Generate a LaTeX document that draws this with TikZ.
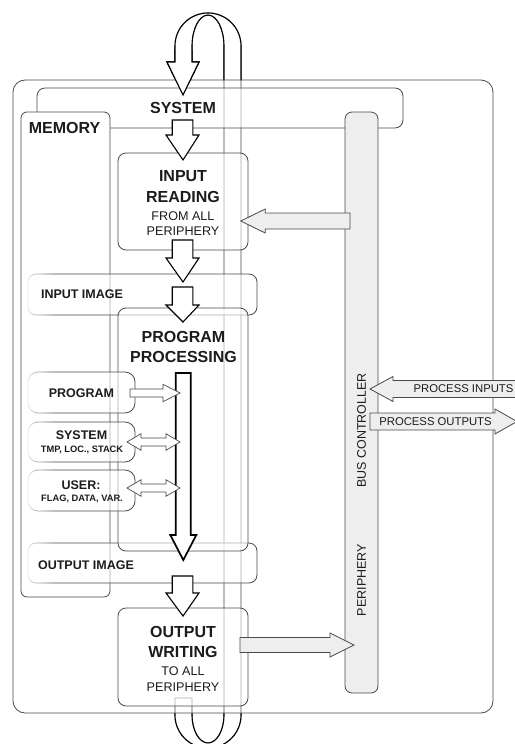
\documentclass[tikz,border=0pt]{standalone}
\usepackage{fontspec}
\setmainfont{Liberation Sans}
\usetikzlibrary{positioning,calc,fadings}
\definecolor{edgegray}{HTML}{4A4A4A}
\definecolor{inkgray}{HTML}{1C1C1C}
\definecolor{busgray}{HTML}{EEEEEE}
\tikzset{
  % kaesten
  outerbox/.style={draw=edgegray,line width=0.8pt,fill=white,fill opacity=0.45,
                   rounded corners=12pt,inner sep=0pt},
  blk/.style={draw=edgegray,line width=0.8pt,fill=white,fill opacity=0.55,
              rounded corners=8pt,inner sep=0pt},
  memblk/.style={blk,rounded corners=10pt},
  busbar/.style={draw=edgegray,line width=0.8pt,fill=busgray,rounded corners=7pt,
                 inner sep=0pt},
  % texte
  ttl/.style={font=\fontsize{16}{20.5}\selectfont\bfseries,text=inkgray,
              align=center,inner sep=0pt},
  subttl/.style={font=\fontsize{12.6}{15.5}\selectfont,text=inkgray,
                 align=center,inner sep=0pt},
  lbl/.style={font=\fontsize{12.5}{14}\selectfont\bfseries,text=inkgray,
              inner sep=0pt,text depth=0pt},
  memsub/.style={font=\fontsize{9.3}{11}\selectfont\bfseries,text=inkgray,
                 inner sep=0pt,text depth=0pt},
  iolbl/.style={font=\fontsize{11.3}{13}\selectfont,text=inkgray,
                inner sep=0pt,text depth=0pt},
  buslbl/.style={font=\fontsize{12.5}{14}\selectfont,text=inkgray,
                 inner sep=0pt,text depth=0pt,rotate=90},
  % pfeile
  bigarr/.style={draw=black,line width=1.1pt,fill=white},
  longarr/.style={draw=black,line width=1.7pt,fill=white},
  flowarr/.style={draw=edgegray,line width=0.8pt,fill=busgray},
  memarr/.style={draw=edgegray,line width=0.7pt,fill=white},
  loopline/.style={draw=black,line width=1.1pt,fill=white},
  loopback/.style={loopline,draw=black!70},
}
% block arrow down: style, tail, tip, half shaft, half head, head length
\newcommand{\blkdown}[6]{%
  \draw[#1] let \p1=(#2), \p2=(#3), \p3=($(#3)!#6pt!(#2)$) in
    ({\x1-#4pt},\y1) -- ({\x1-#4pt},\y3) -- ({\x1-#5pt},\y3) -- (\x2,\y2)
    -- ({\x1+#5pt},\y3) -- ({\x1+#4pt},\y3) -- ({\x1+#4pt},\y1) -- cycle;}
% block arrow sideways: style, tail, tip, half shaft, half head, head length
\newcommand{\blkside}[6]{%
  \draw[#1] let \p1=(#2), \p2=(#3), \p3=($(#3)!#6pt!(#2)$) in
    (\x1,{\y1+#4pt}) -- (\x3,{\y1+#4pt}) -- (\x3,{\y1+#5pt}) -- (\x2,\y2)
    -- (\x3,{\y1-#5pt}) -- (\x3,{\y1-#4pt}) -- (\x1,{\y1-#4pt}) -- cycle;}
% block arrow both ways: style, left tip, right tip, half shaft, half head, head length
\newcommand{\blkboth}[6]{%
  \draw[#1] let \p1=(#2), \p2=(#3), \p3=($(#2)!#6pt!(#3)$), \p4=($(#3)!#6pt!(#2)$) in
    (\x1,\y1) -- (\x3,{\y1+#5pt}) -- (\x3,{\y1+#4pt}) -- (\x4,{\y1+#4pt})
    -- (\x4,{\y1+#5pt}) -- (\x2,\y2) -- (\x4,{\y1-#5pt}) -- (\x4,{\y1-#4pt})
    -- (\x3,{\y1-#4pt}) -- (\x3,{\y1-#5pt}) -- cycle;}
% zyklus-schleife
\newcommand{\drawloop}[1]{%
  \draw[#1] (175,698) -- (175,715)
    arc[start angle=180,end angle=0,x radius=33,y radius=33] -- (241,46)
    arc[start angle=0,end angle=-180,x radius=33,y radius=33] -- (175,62)
    -- (167,62) -- (183,95) -- (199,62) -- (192,62) -- (192,46)
    arc[start angle=180,end angle=360,x radius=16,y radius=31] -- (224,715)
    arc[start angle=0,end angle=180,x radius=16,y radius=28] -- (192,698) -- cycle;}

\begin{document}
\begin{tikzpicture}[x=1pt,y=-1pt]
  \useasboundingbox (0,0) rectangle (514,744);
  \drawloop{loopback}
  \begin{scope}
    \clip (0,0) rectangle (514,80);
    \drawloop{loopline}
  \end{scope}
  \begin{scope}
    \clip (0,713) rectangle (514,744);
    \drawloop{loopline}
  \end{scope}
  % kaesten
  \node[outerbox,minimum width=480pt,minimum height=633pt] (plc) at (253,396.5) {};
  \node[blk,minimum width=366pt,minimum height=40pt] (sysband) at (220,108) {};
  \node[busbar,minimum width=33pt,minimum height=581pt] (bus) at (361.5,402.5) {};
  \node[blk,rounded corners=6pt,fill opacity=1,minimum width=89pt,
        minimum height=485pt] (mem) at (65.5,354.5) {};
  \node[blk,minimum width=229pt,minimum height=41pt] (inimg) at (142.5,294.5) {};
  \node[blk,minimum width=229pt,minimum height=40pt] (outimg) at (142.5,563) {};
  \node[blk,minimum width=130pt,minimum height=97pt] (inread) at (183,201.5) {};
  \node[blk,minimum width=130pt,minimum height=243pt] (proc) at (183,429.5) {};
  \node[blk,minimum width=130pt,minimum height=98pt] (outwrite) at (183,657) {};
  \node[memblk,minimum width=107pt,minimum height=41pt] (mprog) at (81.5,392.5) {};
  \node[memblk,minimum width=107pt,minimum height=40pt] (msys) at (81.5,442) {};
  \node[memblk,minimum width=107pt,minimum height=41pt] (muser) at (81.5,490.5) {};
  \foreach \ya/\yb in {272/316,541/585,370/415,420/464,468/513}
    \fill[white,path fading=east] (24,\ya) rectangle (54,\yb);
  % pfeile
  \coordinate (a1s) at (182.5,120);   \coordinate (a1t) at (183,160);
  \coordinate (a2s) at (182.5,240);   \coordinate (a2t) at (183,282);
  \coordinate (a3s) at (182.5,287);   \coordinate (a3t) at (183,322);
  \coordinate (a4s) at (183.3,373);   \coordinate (a4t) at (183.3,560);
  \coordinate (a5s) at (182.5,576);   \coordinate (a5t) at (183,616);
  \blkdown{bigarr}{a1s}{a1t}{10.3}{16.5}{25}
  \blkdown{bigarr}{a2s}{a2t}{10.3}{16.5}{24}
  \blkdown{bigarr}{a3s}{a3t}{10.3}{16.5}{17}
  \blkdown{longarr}{a4s}{a4t}{7.5}{13}{25}
  \blkdown{bigarr}{a5s}{a5t}{10.3}{16.5}{23}
  \coordinate (ps) at (130,393);      \coordinate (pt) at (180,393);
  \coordinate (ss) at (127,442);      \coordinate (st) at (180,442);
  \coordinate (us) at (127,488);      \coordinate (ut) at (180,488);
  \blkside{memarr}{ps}{pt}{4}{8.7}{17}
  \blkboth{memarr}{ss}{st}{4}{8.3}{14}
  \blkboth{memarr}{us}{ut}{4}{8.3}{14}
  \coordinate (rds) at (350,221);     \coordinate (rdt) at (240.7,221);
  \coordinate (wrs) at (240,645);     \coordinate (wrt) at (354,645);
  \coordinate (pis) at (522,389);     \coordinate (pit) at (370,389);
  \coordinate (pos) at (370,421.5);   \coordinate (pot) at (517,421.5);
  \blkside{flowarr}{rds}{rdt}{8}{12}{24.5}
  \blkside{flowarr}{wrs}{wrt}{7.5}{12}{24}
  \blkside{flowarr}{pis}{pit}{8.5}{12.5}{23}
  \blkside{flowarr}{pos}{pot}{8.5}{12.5}{22}
  \begin{scope}
    \clip (150,50) rectangle (210,100);
    \drawloop{loopline}
  \end{scope}
  % texte
  \node[ttl] (systxt) at (183,107.5) {SYSTEM};
  \node[ttl] (memtxt) at (64.5,127.5) {MEMORY};
  \node[ttl] (inreadttl) at (183,186.5) {INPUT\\READING};
  \node[subttl] (inreadsub) at (183,223.5) {FROM ALL\\PERIPHERY};
  \node[ttl] (procttl) at (183.5,347) {PROGRAM\\PROCESSING};
  \node[ttl] (outwritettl) at (183,642) {OUTPUT\\WRITING};
  \node[subttl] (outwritesub) at (183,679) {TO ALL\\PERIPHERY};
  \node[lbl] (inimgtxt) at (82,294.5) {INPUT IMAGE};
  \node[lbl] (outimgtxt) at (86,565) {OUTPUT IMAGE};
  \node[lbl] (mprogtxt) at (81.5,393) {PROGRAM};
  \node[lbl] (msystxt) at (81.5,435) {SYSTEM};
  \node[memsub] (msyssub) at (82,449) {TMP, LOC., STACK};
  \node[lbl] (musertxt) at (81,485) {USER:};
  \node[memsub] (musersub) at (82,498) {FLAG, DATA, VAR.};
  \node[buslbl] (bustxt) at (361.5,430.5) {BUS CONTROLLER};
  \node[buslbl] (pertxt) at (361.5,580) {PERIPHERY};
  \node[iolbl] (pintxt) at (463.5,388.5) {PROCESS INPUTS};
  \node[iolbl] (pouttxt) at (435.5,421.5) {PROCESS OUTPUTS};
\end{tikzpicture}
\end{document}
